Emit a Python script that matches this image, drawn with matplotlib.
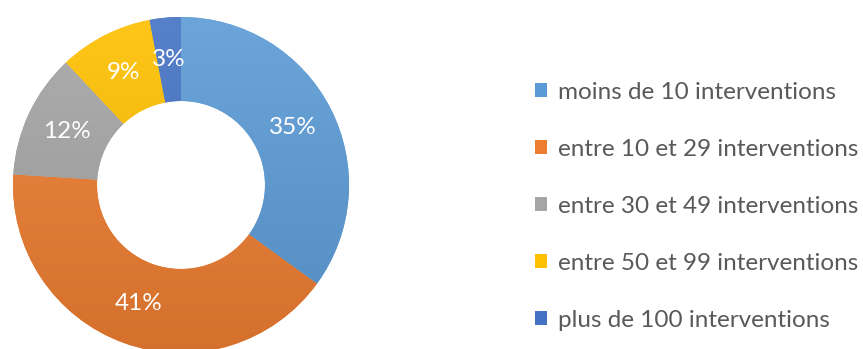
"""Donut chart: repartition des structures par nombre d'interventions."""

import numpy as np
import matplotlib
matplotlib.use("Agg")
import matplotlib.pyplot as plt
from matplotlib.colors import LinearSegmentedColormap, to_rgb

# Data
categories = [
    "moins de 10 interventions",
    "entre 10 et 29 interventions",
    "entre 30 et 49 interventions",
    "entre 50 et 99 interventions",
    "plus de 100 interventions",
]
shares = [35, 41, 12, 9, 3]
colors = ["#5B9BD5", "#ED7D31", "#A5A5A5", "#FFC000", "#4472C4"]

plt.rcParams["font.family"] = ["Lato", "DejaVu Sans"]

fig = plt.figure(figsize=(8.63, 3.49), dpi=100)
W, H = 863, 349
cx, cy, r = 181, 185, 168  # donut centre and radius in pixels
ax = fig.add_axes([(cx - r) / W, (H - cy - r) / H, 2 * r / W, 2 * r / H])

wedges, texts, autotexts = ax.pie(
    shares,
    colors=colors,
    startangle=90,
    counterclock=False,
    radius=1,
    wedgeprops=dict(width=0.5, linewidth=0),
    autopct=lambda p: f"{p:.0f}%",
    pctdistance=0.75,
    textprops=dict(color="white", fontsize=17.5),
)
ax.set_aspect("equal")
ax.axis("off")


def shade(c, f):
    rgb = np.array(to_rgb(c))
    if f >= 0:
        return tuple(rgb + (1 - rgb) * f)
    return tuple(rgb * (1 + f))


# soft vertical gradient on each slice, like the original
grad = np.linspace(0, 1, 256).reshape(-1, 1)
for w, c in zip(wedges, colors):
    cmap = LinearSegmentedColormap.from_list("g", [shade(c, 0.1), shade(c, -0.1)])
    im = ax.imshow(grad, cmap=cmap, extent=(-1, 1, -1, 1), origin="upper",
                   aspect="auto", zorder=w.get_zorder() + 0.1)
    im.set_clip_path(w)
for t in autotexts:
    t.set_zorder(5)
ax.set_xlim(-1, 1)
ax.set_ylim(-1, 1)

fig.legend(
    wedges,
    categories,
    loc="upper left",
    bbox_to_anchor=(513 / W, 1 - 60 / H),
    frameon=False,
    fontsize=17.5,
    labelcolor="#595959",
    handlelength=0.5,
    handleheight=0.5,
    handletextpad=0.45,
    labelspacing=1.48,
)

fig.savefig("out.png", dpi=100)
